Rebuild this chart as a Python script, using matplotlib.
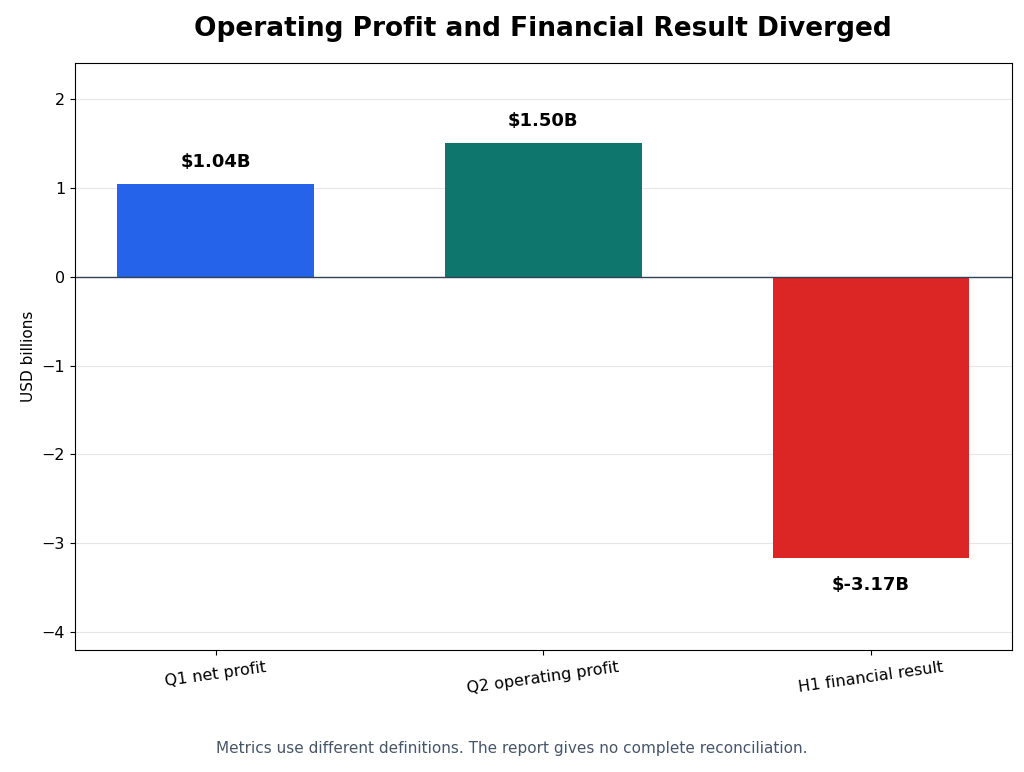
import matplotlib.pyplot as plt

categories = ['Q1 net profit', 'Q2 operating profit', 'H1 financial result']
values = [1.04, 1.50, -3.17]
colors = ['#2563eb', '#0f766e', '#dc2626']

fig, ax = plt.subplots(figsize=(10.24, 7.72), dpi=100)
bars = ax.bar(categories, values, width=0.6, color=colors)

for bar, v in zip(bars, values):
    y = v + 0.15 if v >= 0 else v - 0.2
    ax.text(bar.get_x() + bar.get_width() / 2, y, f'${v:.2f}B',
            ha='center', va='bottom' if v >= 0 else 'top',
            fontsize=13, fontweight='bold')

ax.axhline(0, color='#334155', linewidth=1)
ax.set_ylim(-4.2, 2.4)
ax.set_yticks([-4, -3, -2, -1, 0, 1, 2])
ax.set_yticklabels(['\u22124', '\u22123', '\u22122', '\u22121', '0', '1', '2'])
ax.grid(axis='y', color='#e5e7eb', linewidth=0.8)
ax.set_axisbelow(True)
ax.set_ylabel('USD billions', fontsize=11)
ax.tick_params(axis='x', labelsize=11.5, labelrotation=8)
ax.tick_params(axis='y', labelsize=11.5)
ax.set_title('Operating Profit and Financial Result Diverged',
             fontsize=19, fontweight='bold', pad=20)
fig.text(0.5, 0.025, 'Metrics use different definitions. The report gives no complete reconciliation.',
         ha='center', fontsize=11, color='#475569')

fig.subplots_adjust(left=0.073, right=0.988, top=0.918, bottom=0.158)
fig.savefig('out.png')
